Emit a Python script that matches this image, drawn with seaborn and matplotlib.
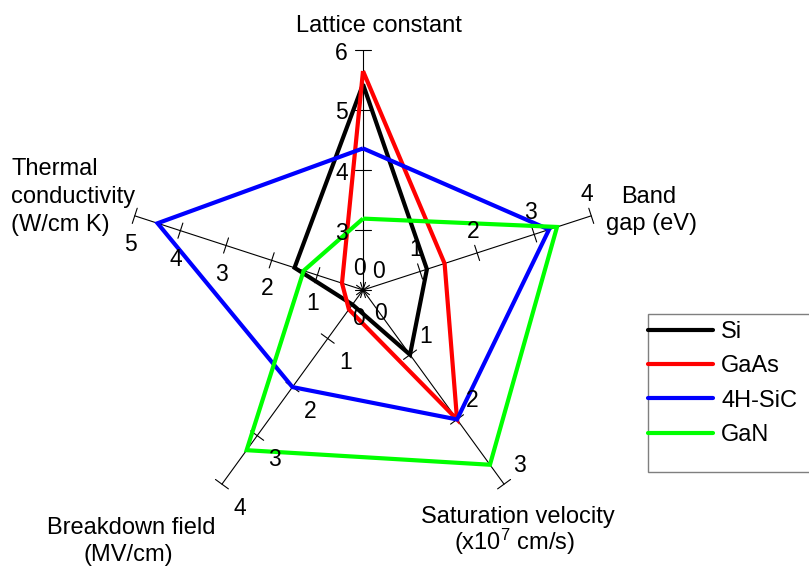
import numpy as np
import pandas as pd
import matplotlib
matplotlib.use("Agg")
import matplotlib.pyplot as plt
from matplotlib.lines import Line2D
from matplotlib.patches import Rectangle
import seaborn as sns

# ---- data -------------------------------------------------------------
materials = ["Si", "GaAs", "4H-SiC", "GaN"]
lattice_constant = [5.43, 5.65, 4.36, 3.19]
band_gap = [1.12, 1.43, 3.26, 3.40]
saturation_velocity = [1.0, 2.0, 2.0, 2.7]
breakdown_field = [0.3, 0.4, 2.0, 3.3]
thermal_conductivity = [1.5, 0.46, 4.5, 1.3]

# radar axes (clockwise from top) with their own ranges
axis_min = [2, 0, 0, 0, 0]
axis_max = [6, 4, 3, 4, 5]
axis_tick_labels = [
    ["", "3", "4", "5", "6"],
    ["0", "1", "2", "3", "4"],
    ["0", "1", "2", "3"],
    ["0", "1", "2", "3", "4"],
    ["0", "1", "2", "3", "4", "5"],
]

colors = ["#000000", "#ff0000", "#0000ff", "#00ff00"]

# ---- layout -----------------------------------------------------------
W, H = 809, 566
DPI = 100
CX, CY = 363, 290          # radar centre in pixels
R = 240                    # axis length in pixels
angles = np.deg2rad([90, 18, -54, -126, 162])
# tick-label offsets (pixels, screen coordinates) per axis
label_off = [(-21.5, 1.5), (-4, -23), (15.5, -20), (17.5, 22.5), (-4.3, 27)]
FS = 17

sns.set_theme(style="white")
plt.rcParams["font.family"] = ["Liberation Sans", "DejaVu Sans"]
plt.rcParams["text.color"] = "black"
plt.rcParams["mathtext.fontset"] = "custom"
plt.rcParams["mathtext.rm"] = "Liberation Sans"
plt.rcParams["mathtext.it"] = "Liberation Sans:italic"

fig = plt.figure(figsize=(W / DPI, H / DPI), dpi=DPI)
ax = fig.add_axes([0, 0, 1, 1])
ax.set_xlim(-CX / R, (W - CX) / R)
ax.set_ylim(-(H - CY) / R, CY / R)
ax.axis("off")


def fx(px):
    return px / W


def fy(py):
    return 1 - py / H


# ---- polygon data -----------------------------------------------------
columns = [lattice_constant, band_gap, saturation_velocity,
           breakdown_field, thermal_conductivity]
rows = []
for i, m in enumerate(materials):
    for step, k in enumerate(list(range(5)) + [0]):
        v = columns[k][i]
        r = (v - axis_min[k]) / (axis_max[k] - axis_min[k])
        rows.append({"material": m, "step": step,
                     "x": r * np.cos(angles[k]), "y": r * np.sin(angles[k])})
df = pd.DataFrame(rows)

# ---- axes spokes and ticks ---------------------------------------------
tick_half = 8 / R
for k, th in enumerate(angles):
    d = np.array([np.cos(th), np.sin(th)])
    n = np.array([-np.sin(th), np.cos(th)])
    ax.plot([0, d[0]], [0, d[1]], color="black", lw=0.8, zorder=2)
    span = axis_max[k] - axis_min[k]
    for j, lab in enumerate(axis_tick_labels[k]):
        r = j / span
        p = r * d
        a, b = p - tick_half * n, p + tick_half * n
        ax.plot([a[0], b[0]], [a[1], b[1]], color="black", lw=0.8, zorder=2)
        if lab:
            px = CX + p[0] * R + label_off[k][0]
            py = CY - p[1] * R + label_off[k][1]
            fig.text(fx(px), fy(py + 8), lab, fontsize=FS - 0.5, ha="center",
                     va="baseline", color="black", zorder=1)

# ---- data polygons --------------------------------------------------------
sns.lineplot(data=df, x="x", y="y", hue="material", hue_order=materials,
             palette=colors, sort=False, estimator=None, lw=3.0, ax=ax,
             legend=False, zorder=3)
for ln in ax.lines[-len(materials):]:
    ln.set_solid_joinstyle("miter")
    ln.set_solid_capstyle("butt")
ax.set_xlabel("")
ax.set_ylabel("")

# ---- axis titles --------------------------------------------------------------
titles = [
    ("Lattice constant", 379, 32, "center"),
    ("Band", 649, 203, "center"),
    ("gap (eV)", 652, 230, "center"),
    ("Saturation velocity", 518, 523, "center"),
    ("(x10$^{7}$ cm/s)", 514, 550, "center"),
    ("Breakdown field", 131, 534, "center"),
    ("(MV/cm)", 128, 561, "center"),
    ("Thermal", 11, 175, "left"),
    ("conductivity", 11, 203, "left"),
    ("(W/cm K)", 11, 231, "left"),
]
for txt, px, py, ha in titles:
    fig.text(fx(px), fy(py), txt, fontsize=FS, ha=ha, va="baseline",
             color="black")

# ---- legend ---------------------------------------------------------------------
fig.patches.append(Rectangle((fx(648), fy(472)), fx(830) - fx(648),
                             fy(314) - fy(472), transform=fig.transFigure,
                             facecolor="white", edgecolor="#7f7f7f", lw=1.0,
                             zorder=4))
handles = [Line2D([0], [0], color=c, lw=3.0) for c in colors]
leg = fig.legend(handles, materials, loc="upper left",
                 bbox_to_anchor=(fx(648), fy(321)), frameon=False,
                 fontsize=FS, handlelength=2.75, handletextpad=0.35,
                 labelspacing=0.52, borderpad=0, borderaxespad=0,
                 labelcolor="black")
leg.set_zorder(5)

fig.savefig("out.png", dpi=DPI)
